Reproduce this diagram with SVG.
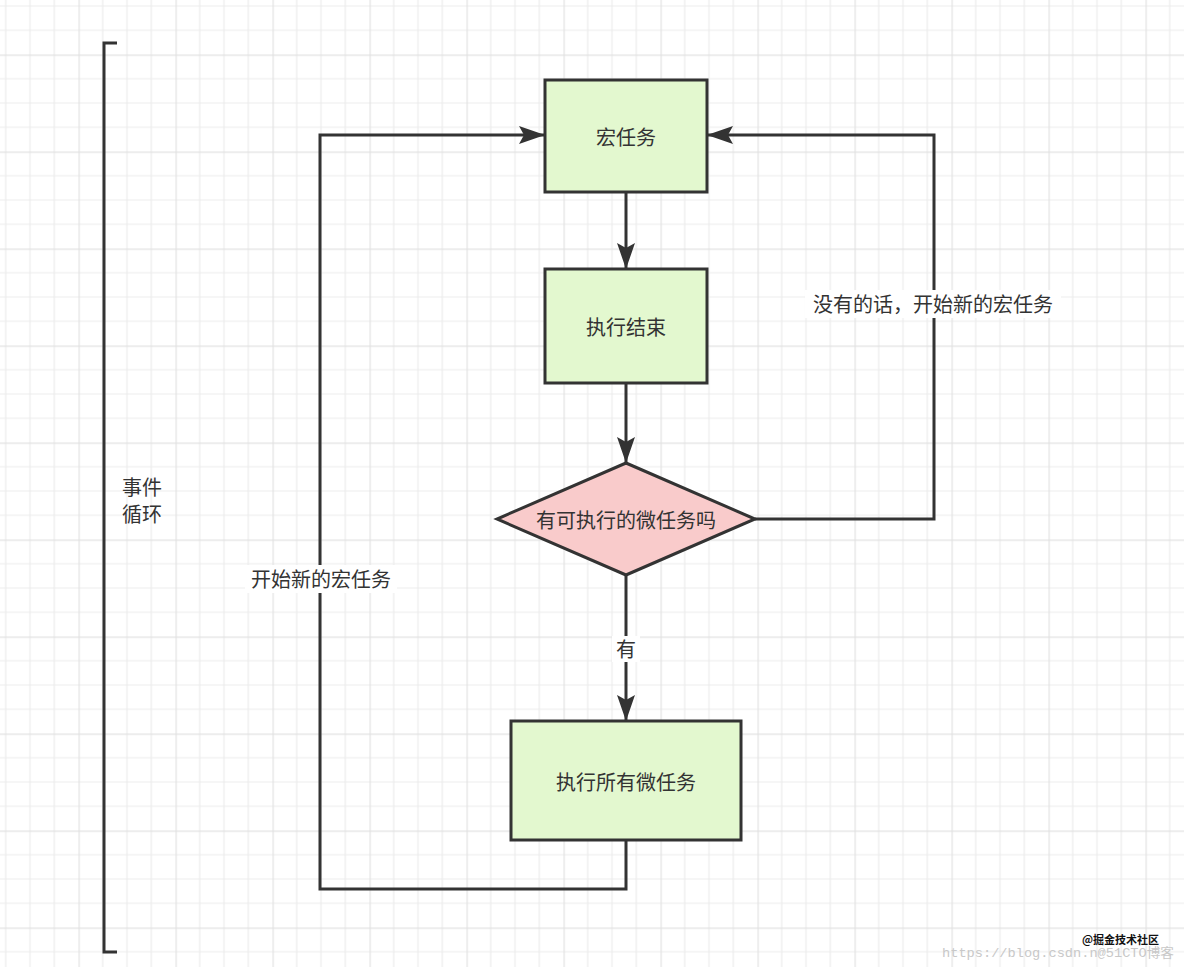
<svg xmlns="http://www.w3.org/2000/svg" width="1184" height="967" viewBox="0 0 1184 967">
<defs>
<pattern id="grid" patternUnits="userSpaceOnUse" x="78.5" y="54.5" width="97" height="97">
<rect width="97" height="97" fill="#ffffff"/>
<path d="M24.25 0V97M48.5 0V97M72.75 0V97M0 24.25H97M0 48.5H97M0 72.75H97" stroke="#ececec" stroke-width="1.2" fill="none"/>
<path d="M0.5 0V97M0 0.5H97" stroke="#e2e2e2" stroke-width="1.4" fill="none"/>
</pattern>
<marker id="arr" markerUnits="userSpaceOnUse" markerWidth="30" markerHeight="20" viewBox="-27 -10 30 20" refX="0" refY="0" orient="auto">
<path d="M0 0L-26 -9L-21 0L-26 9Z" fill="#333333"/>
</marker>
<style>
.box{fill:#e3f8cf;stroke:#333333;stroke-width:3}
.dia{fill:#f9cbcb;stroke:#333333;stroke-width:3}
.ln{fill:none;stroke:#333333;stroke-width:3}
.t{font-family:"Noto Sans CJK SC","Noto Sans",sans-serif;font-size:20px;fill:#333333;text-anchor:middle;dominant-baseline:central}
.lbl{fill:#ffffff}
</style>
</defs>
<rect width="1184" height="967" fill="url(#grid)"/>
<g id="bracket">
<path class="ln" d="M117 43H104V952H117"/>
<text class="t" x="142" y="486">事件</text>
<text class="t" x="142" y="513">循环</text>
</g>
<g id="connectors">
<path class="ln" d="M626 192V269" marker-end="url(#arr)"/>
<path class="ln" d="M626 383V463" marker-end="url(#arr)"/>
<path class="ln" d="M626 575V721" marker-end="url(#arr)"/>
<path class="ln" d="M755 519H934V135H707" marker-end="url(#arr)"/>
<path class="ln" d="M626 840V889H320V135H545" marker-end="url(#arr)"/>
<rect class="lbl" x="612" y="636" width="28" height="26"/>
<text class="t" x="626" y="648">有</text>
<rect class="lbl" x="805" y="290" width="256" height="28"/>
<text class="t" x="933" y="303">没有的话，开始新的宏任务</text>
<rect class="lbl" x="245" y="565" width="152" height="28"/>
<text class="t" x="321" y="578">开始新的宏任务</text>
</g>
<g id="macro">
<rect class="box" x="545" y="80" width="162" height="112"/>
<text class="t" x="626" y="136">宏任务</text>
</g>
<g id="done">
<rect class="box" x="545" y="269" width="162" height="114"/>
<text class="t" x="626" y="326">执行结束</text>
</g>
<g id="decision">
<path class="dia" d="M626 463L755 519L626 575L497 519Z"/>
<text class="t" x="626" y="519">有可执行的微任务吗</text>
</g>
<g id="micro">
<rect class="box" x="511" y="721" width="230" height="119"/>
<text class="t" x="626" y="781">执行所有微任务</text>
</g>
<g id="watermark">
<text x="1082" y="944" style="font-family:'Noto Sans CJK SC',sans-serif;font-size:11px;font-weight:bold;fill:#111111">@掘金技术社区</text>
<text x="942" y="957" textLength="232" lengthAdjust="spacingAndGlyphs" style="font-family:'Liberation Mono','Noto Sans CJK SC',monospace;font-size:13px;fill:#c8c8c8">https://blog.csdn.n@51CTO博客</text>
</g>
</svg>
